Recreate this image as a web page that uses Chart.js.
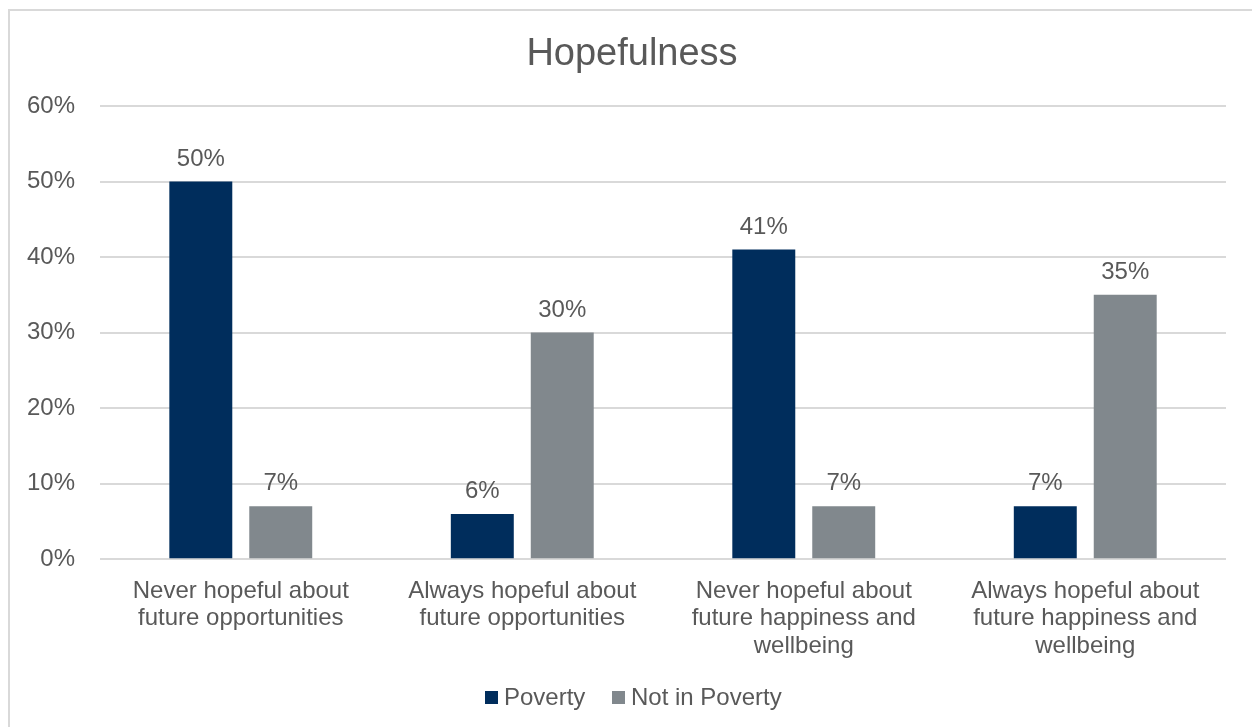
<!DOCTYPE html>
<html>
<head>
<meta charset="utf-8">
<script src="https://cdn.jsdelivr.net/npm/chart.js@4"></script>
<style>
html,body{margin:0;padding:0;background:#fff;}
#wrap{position:absolute;left:0;top:0;width:1252px;height:727px;}
</style>
</head>
<body>
<div id="wrap"><canvas id="c" width="1252" height="727"></canvas></div>
<script>
const categories = [
  ["Never hopeful about", "future opportunities"],
  ["Always hopeful about", "future opportunities"],
  ["Never hopeful about", "future happiness and", "wellbeing"],
  ["Always hopeful about", "future happiness and", "wellbeing"]
];
const seriesNames = ["Poverty", "Not in Poverty"];
const poverty = [50, 6, 41, 7];
const notInPoverty = [7, 30, 7, 35];
const seriesColors = ["#002D5C", "#81888D"];
const titleText = "Hopefulness";

const FONT = "'Liberation Sans', Arial, Helvetica, sans-serif";
const TEXT = "#595959";

const borderPlugin = {
  id: 'outerBorder',
  beforeDraw(chart) {
    const ctx = chart.ctx;
    ctx.save();
    ctx.fillStyle = '#fff';
    ctx.fillRect(0, 0, chart.width, chart.height);
    ctx.strokeStyle = '#d9d9d9';
    ctx.lineWidth = 2;
    ctx.strokeRect(9, 10, 1400, 900);
    ctx.restore();
  }
};

const titleLegendPlugin = {
  id: 'titleLegend',
  afterDraw(chart) {
    const ctx = chart.ctx;
    ctx.save();
    ctx.fillStyle = TEXT;
    ctx.font = "38px " + FONT;
    ctx.textAlign = 'center';
    ctx.textBaseline = 'alphabetic';
    ctx.fillText(titleText, 632, 65);
    // legend
    ctx.font = "24px " + FONT;
    ctx.textAlign = 'left';
    ctx.textBaseline = 'middle';
    const items = [
      { x: 485, name: seriesNames[0], color: seriesColors[0] },
      { x: 612, name: seriesNames[1], color: seriesColors[1] }
    ];
    items.forEach(it => {
      ctx.fillStyle = it.color;
      ctx.fillRect(it.x, 691, 13, 13);
      ctx.fillStyle = TEXT;
      ctx.fillText(it.name, it.x + 19, 698);
    });
    ctx.restore();
  }
};

const labelPlugin = {
  id: 'valueLabels',
  afterDatasetsDraw(chart) {
    const ctx = chart.ctx;
    ctx.save();
    ctx.font = "24px " + FONT;
    ctx.fillStyle = TEXT;
    ctx.textAlign = 'center';
    ctx.textBaseline = 'alphabetic';
    chart.data.datasets.forEach((ds, i) => {
      const meta = chart.getDatasetMeta(i);
      meta.data.forEach((bar, j) => {
        ctx.fillText(ds.data[j] + '%', bar.x, bar.y - 16);
      });
    });
    ctx.restore();
  }
};

new Chart(document.getElementById('c'), {
  type: 'bar',
  data: {
    labels: categories,
    datasets: [
      { label: seriesNames[0], data: poverty, backgroundColor: seriesColors[0] },
      { label: seriesNames[1], data: notInPoverty, backgroundColor: seriesColors[1] }
    ]
  },
  options: {
    responsive: false,
    animation: false,
    devicePixelRatio: 1,
    layout: { padding: { left: 2, right: 26, top: 106, bottom: 49 } },
    datasets: { bar: { categoryPercentage: 0.568, barPercentage: 0.7875 } },
    plugins: {
      title: { display: false },
      legend: { display: false },
      tooltip: { enabled: false }
    },
    scales: {
      x: {
        grid: { display: false, drawTicks: false },
        border: { display: false },
        ticks: {
          color: TEXT,
          font: { family: FONT, size: 24, lineHeight: 1.15 },
          padding: 18,
          maxRotation: 0
        }
      },
      y: {
        min: 0, max: 60,
        grid: { color: '#d9d9d9', lineWidth: 2, drawTicks: false },
        border: { display: false },
        ticks: {
          stepSize: 10,
          color: TEXT,
          font: { family: FONT, size: 24 },
          padding: 25,
          callback: v => v + '%'
        }
      }
    }
  },
  plugins: [borderPlugin, labelPlugin, titleLegendPlugin]
});
</script>
</body>
</html>
